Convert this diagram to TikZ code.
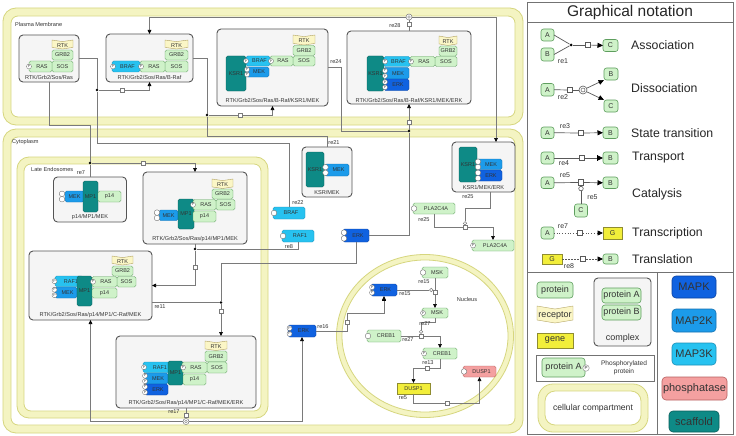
\documentclass[tikz,border=0pt]{standalone}
\usepackage{fontspec}
\setmainfont{Liberation Sans}
\usetikzlibrary{arrows.meta,calc}
\definecolor{txt}{HTML}{333333}
\definecolor{cplxf}{HTML}{F5F5F5}
\definecolor{cplxb}{HTML}{555555}
\definecolor{protf}{HTML}{CFF2C9}
\definecolor{protb}{HTML}{5E9E5E}
\definecolor{m3f}{HTML}{27C2F0}
\definecolor{m3b}{HTML}{1A8FB8}
\definecolor{m2f}{HTML}{1C9BEA}
\definecolor{m2b}{HTML}{1470B0}
\definecolor{m1f}{HTML}{1062E0}
\definecolor{m1b}{HTML}{0A40A0}
\definecolor{scf}{HTML}{0E8A86}
\definecolor{scb}{HTML}{0A5E5B}
\definecolor{genef}{HTML}{F2EE3A}
\definecolor{geneb}{HTML}{8F8C30}
\definecolor{phf}{HTML}{F4A0A0}
\definecolor{phb}{HTML}{B86060}
\definecolor{recf}{HTML}{FBF6C6}
\definecolor{recb}{HTML}{B0A060}
\definecolor{compband}{HTML}{F4F4C2}
\definecolor{compline}{HTML}{D6D67E}
\definecolor{lineg}{HTML}{7A7A7A}
\newcommand\dgS{\fontsize{5.6}{6.2}\selectfont}
\newcommand\dgM{\fontsize{5.5}{6.2}\selectfont}
\newcommand\dgP{\fontsize{3.4}{3.6}\selectfont}
\newcommand\lgA{\fontsize{7}{8}\selectfont}
\newcommand\lgB{\fontsize{9}{10}\selectfont}
\newcommand\lgL{\fontsize{12.3}{14}\selectfont}
\newcommand\lgT{\fontsize{15.5}{18}\selectfont}
\newcommand\lgK{\fontsize{11}{12}\selectfont}
\newcommand\lgS{\fontsize{7}{8}\selectfont}
\newcommand\lgC{\fontsize{8.6}{10}\selectfont}
\newcommand\lgP{\fontsize{6.6}{7.6}\selectfont}
\newcommand\mol[7]{\node[#2,minimum width={(#5-#3)*1pt},minimum height={(#6-#4)*1pt}] (#1) at ({(#3+#5)/2},{(#4+#6)/2}) {#7};}
\newcommand\stP[3]{\node[pcirc] (#1) at (#2,#3) {P};}
\newcommand\stE[3]{\node[ecirc] (#1) at (#2,#3) {};}
\newcommand\recep[7]{%
 \filldraw[fill=recf,draw=recb,line width=0.4pt] (#2,#3) -- ({(#2+#4)/2},{#3+#6}) -- (#4,#3) -- (#4,{#5-#6}) -- ({(#2+#4)/2},#5) -- (#2,{#5-#6}) -- cycle;
 \node[inner sep=0pt,text=txt] (#1) at ({(#2+#4)/2},{(#3+#5)/2+#6/2}) {#7};}
\newcommand\compart[7]{%
 \draw[draw=compline, line width=0.8pt, fill=compband, rounded corners=#6pt] (#1,#2) rectangle (#3,#4);
 \draw[draw=compline, line width=0.8pt, fill=white, rounded corners=#7pt] ({#1+#5},{#2+#5}) rectangle ({#3-#5},{#4-#5});}
\tikzset{
 cplx/.style={draw=cplxb, fill=cplxf, line width=0.9pt, rounded corners=4pt, inner sep=0pt, outer sep=0pt},
 mbase/.style={line width=0.4pt, rounded corners=1.6pt, inner sep=0pt, outer sep=0pt, font=\dgM, text=txt},
 prot/.style={mbase, draw=protb, fill=protf},
 mthree/.style={mbase, draw=m3b, fill=m3f},
 mtwo/.style={mbase, draw=m2b, fill=m2f},
 mone/.style={mbase, draw=m1b, fill=m1f},
 scaf/.style={mbase, draw=scb, fill=scf},
 genest/.style={mbase, rounded corners=0pt, draw=geneb, fill=genef},
 phos/.style={mbase, draw=phb, fill=phf},
 pcirc/.style={circle, draw=gray!80!black, fill=white, line width=0.3pt, inner sep=0pt, minimum size=5pt, font=\dgP, text=txt},
 ecirc/.style={circle, draw=gray!80!black, fill=white, line width=0.35pt, inner sep=0pt, minimum size=5.6pt},
 sqn/.style={rectangle, draw=lineg, fill=white, line width=0.5pt, minimum size=4.4pt, inner sep=0pt},
 dotn/.style={circle, fill=black, inner sep=0pt, minimum size=2.6pt},
 dissoc/.style={circle, draw=lineg, fill=white, line width=0.5pt, minimum size=6pt, inner sep=0pt, path picture={\draw[lineg, line width=0.4pt] (path picture bounding box.center) circle (1.4pt);}},
 catc/.style={circle, draw=lineg, fill=white, line width=0.5pt, minimum size=3.4pt, inner sep=0pt},
 conn/.style={draw=lineg, line width=0.6pt},
 arr/.style={conn, -{Triangle[length=4pt, width=3.6pt, fill=black, color=black]}},
 tarr/.style={conn, -{Bar[width=4pt,color=black] Triangle[length=4pt, width=3.6pt, fill=black, color=black]}},
 rlbl/.style={font=\dgS, text=txt, inner sep=0pt},
 lprot/.style={prot, font=\lgA, rounded corners=2.5pt, line width=0.6pt},
 lgene/.style={genest, font=\lgA, line width=0.6pt},
 lprotb/.style={prot, font=\lgB, rounded corners=3pt, line width=0.6pt},
 lconn/.style={draw=black!65, line width=0.7pt},
 larr/.style={lconn, -{Triangle[length=5.5pt, width=5pt, fill=black, color=black]}},
 ltarr/.style={lconn, -{Bar[width=6pt,color=black] Triangle[length=5.5pt, width=5pt, fill=black, color=black]}},
 lsq/.style={rectangle, draw=black!65, fill=white, line width=0.6pt, minimum size=5.5pt, inner sep=0pt},
 ldot/.style={circle, fill=black, minimum size=3pt, inner sep=0pt},
 ldis/.style={circle, draw=black!65, fill=white, line width=0.6pt, minimum size=8pt, inner sep=0pt, path picture={\draw[black!65, line width=0.5pt] (path picture bounding box.center) circle (2pt);}},
 lcat/.style={circle, draw=black!65, fill=white, line width=0.6pt, minimum size=4.5pt, inner sep=0pt},
 ltxt/.style={font=\lgL, text=black!85, anchor=west, inner sep=0pt},
 lsmall/.style={font=\lgS, text=txt, inner sep=0pt},
 lkey/.style={mbase, rounded corners=4pt, line width=0.6pt, font=\lgK, text=black!80},
}
\begin{document}
\begin{tikzpicture}[x=1pt,y=-1pt]
\useasboundingbox (0,0) rectangle (736,436);
\fill[white] (0,0) rectangle (736,436);
% ---------------- compartments
\compart{3}{8}{523}{125}{8}{13}{7}
\compart{3}{129}{523}{433}{8}{13}{7}
\compart{17}{157}{268}{418}{7}{12}{7}
\draw[draw=compline, line width=0.8pt, fill=compband] (425,336) ellipse [x radius=88.5pt, y radius=81.5pt];
\draw[draw=compline, line width=0.8pt, fill=white] (425,336) ellipse [x radius=83pt, y radius=76pt];
\node[rlbl, anchor=west] (lpm) at (15,24) {Plasma Membrane};
\node[rlbl, anchor=west] (lcy) at (12,142) {Cytoplasm};
\node[rlbl, anchor=west] (len) at (31,169.5) {Late Endosomes};
\node[rlbl] (lnu) at (467,299) {Nucleus};
% ---------------- complex 1
\mol{c1}{cplx}{19}{35}{79}{82}{}
\node[rlbl] (c1l) at (49,77.5) {RTK/Grb2/Sos/Ras};
\recep{c1rtk}{52}{40}{73}{49}{1.6}{\dgM RTK}
\mol{c1grb}{prot}{52}{50}{73}{60}{GRB2}
\mol{c1sos}{prot}{52}{61}{73}{72}{SOS}
\mol{c1ras}{prot}{29}{61}{52}{72}{\hspace{3pt}RAS}
\stP{c1p}{29}{66.5}
% ---------------- complex 2
\mol{c2}{cplx}{106}{34}{193}{82}{}
\node[rlbl] (c2l) at (149.5,77.5) {RTK/Grb2/Sos/Ras/B-Raf};
\recep{c2rtk}{165}{40}{188}{49}{1.6}{\dgM RTK}
\mol{c2grb}{prot}{165}{50}{188}{60}{GRB2}
\mol{c2sos}{prot}{165}{61}{188}{72}{SOS}
\mol{c2ras}{prot}{140}{61}{165}{72}{\hspace{3pt}RAS}
\mol{c2braf}{mthree}{112}{61}{140}{72}{\hspace{3pt}BRAF}
\stP{c2p1}{141}{66.5}
\stP{c2p2}{113}{66.5}
% ---------------- complex 3
\mol{c3}{cplx}{217}{29}{328}{106}{}
\node[rlbl] (c3l) at (272.5,100.5) {RTK/Grb2/Sos/Ras/B-Raf/KSR1/MEK};
\recep{c3rtk}{293}{35}{315}{45}{1.6}{\dgM RTK}
\mol{c3grb}{prot}{293}{45.5}{315}{55.5}{GRB2}
\mol{c3sos}{prot}{293}{56}{315}{66}{SOS}
\mol{c3ras}{prot}{270}{56}{293}{66}{\hspace{3pt}RAS}
\mol{c3ksr}{scaf}{226}{56}{246}{91}{KSR1}
\mol{c3braf}{mthree}{246}{56}{270}{66}{\hspace{3pt}BRAF}
\mol{c3mek}{mtwo}{246}{67}{269}{77}{\hspace{3pt}MEK}
\stP{c3p1}{271}{61}
\stP{c3p2}{246}{61}
\stP{c3p3}{247}{69.5}
\stP{c3p4}{247}{74.5}
% ---------------- complex 4
\mol{c4}{cplx}{347}{31}{471}{104}{}
\node[rlbl] (c4l) at (409,100) {RTK/Grb2/Sos/Ras/B-Raf/KSR1/MEK/ERK};
\recep{c4rtk}{439}{36}{457}{45.5}{1.6}{\dgM RTK}
\mol{c4grb}{prot}{439}{46}{457}{56}{GRB2}
\mol{c4sos}{prot}{435}{56.5}{457}{66.5}{SOS}
\mol{c4ras}{prot}{410}{56.5}{435}{66.5}{\hspace{3pt}RAS}
\mol{c4ksr}{scaf}{367}{56}{384}{91}{KSR1}
\mol{c4braf}{mthree}{384}{56.5}{410}{66.5}{\hspace{3pt}BRAF}
\mol{c4mek}{mtwo}{384}{67.5}{409}{79}{\hspace{3pt}MEK}
\mol{c4erk}{mone}{384}{79}{409}{90.5}{\hspace{3pt}ERK}
\stP{c4p1}{411}{61.5}
\stP{c4p2}{385}{61.5}
\stP{c4p3}{385}{70.7}
\stP{c4p4}{385}{75.9}
\stP{c4p5}{385}{82}
\stP{c4p6}{385}{87.3}
% ---------------- KSR/MEK
\mol{c5}{cplx}{302}{147}{352}{197}{}
\node[rlbl] (c5l) at (327,192.5) {KSR/MEK};
\mol{c5ksr}{scaf}{306}{152}{324}{187}{KSR1}
\mol{c5mek}{mtwo}{325}{164}{349}{176}{\hspace{3pt}MEK}
\stE{c5e1}{325.5}{167.2}
\stE{c5e2}{325.5}{172.8}
% ---------------- KSR1/MEK/ERK
\mol{c6}{cplx}{452}{142}{515}{192}{}
\node[rlbl] (c6l) at (483.5,187.5) {KSR1/MEK/ERK};
\mol{c6ksr}{scaf}{459}{147}{477}{182}{KSR1}
\mol{c6mek}{mtwo}{477}{159}{502}{169.5}{\hspace{3pt}MEK}
\mol{c6erk}{mone}{477}{170}{502}{181}{\hspace{3pt}ERK}
\stE{c6e1}{478}{161.7}
\stE{c6e2}{478}{167}
\stE{c6e3}{478}{172.8}
\stE{c6e4}{478}{178.2}
% ---------------- single cytoplasm species
\mol{b1}{mthree}{273}{207}{305}{219}{\hspace{4pt}BRAF}
\stE{b1e}{274}{213}
\mol{r1}{mthree}{282}{230}{314}{242}{\hspace{4pt}RAF1}
\stE{r1e}{283}{236}
\mol{e1}{mone}{343}{229}{369}{242}{\hspace{4pt}ERK}
\stE{e1e1}{344}{232.6}
\stE{e1e2}{344}{238.4}
\mol{pl1}{prot}{413}{203}{455}{214}{\hspace{4pt}PLA2C4A}
\stE{pl1e}{414}{208.5}
\mol{pl2}{prot}{472}{240}{514}{251}{\hspace{4pt}PLA2C4A}
\stP{pl2p}{473}{245.5}
\mol{e2}{mone}{288}{325}{316}{337}{\hspace{3pt}ERK}
\stP{e2p1}{289.5}{328.2}
\stP{e2p2}{289.5}{333.8}
% ---------------- nucleus species
\mol{en}{mone}{371}{284}{397}{296}{\hspace{3pt}ERK}
\stP{enp1}{372}{287.3}
\stP{enp2}{372}{292.7}
\mol{m1}{prot}{422}{267}{448}{278}{\hspace{4pt}MSK}
\stE{m1e}{423}{272.5}
\mol{m2}{prot}{422}{308}{448}{318}{\hspace{4pt}MSK}
\stP{m2p}{423}{313}
\mol{cr1}{prot}{367}{330}{401}{342}{\hspace{4pt}CREB1}
\stE{cr1e}{368}{336}
\mol{cr2}{prot}{423}{348}{457}{359}{\hspace{4pt}CREB1}
\stP{cr2p}{424}{353.5}
\mol{g1}{genest}{397}{383}{430}{394}{DUSP1}
\mol{dp}{phos}{463}{366}{496}{377}{\hspace{4pt}DUSP1}
\stE{dpe}{464}{371.5}
% ---------------- late endosome complexes
\mol{c7}{cplx}{53.5}{177}{126.5}{222}{}
\node[rlbl] (c7l) at (90,217.5) {p14/MP1/MEK};
\mol{c7mek}{mtwo}{65}{191}{84}{202}{MEK}
\mol{c7mp}{scaf}{83}{181}{98}{212}{MP1}
\mol{c7p14}{prot}{98}{191}{121}{202}{p14}
\stE{c7e1}{62}{193.8}
\stE{c7e2}{62}{199.2}
\mol{c8}{cplx}{143}{172}{247}{244}{}
\node[rlbl] (c8l) at (195,239.5) {RTK/Grb2/Sos/Ras/p14/MP1/MEK};
\recep{c8rtk}{212}{179}{233}{188.5}{1.6}{\dgM RTK}
\mol{c8grb}{prot}{212}{189}{233}{199}{GRB2}
\mol{c8sos}{prot}{216}{199.5}{235}{210}{SOS}
\mol{c8mek}{mtwo}{159}{210}{178}{220.5}{MEK}
\mol{c8mp}{scaf}{178}{199}{194}{229}{MP1}
\mol{c8ras}{prot}{193}{199.5}{216}{210}{\hspace{3pt}RAS}
\mol{c8p14}{prot}{193}{211}{216}{222}{p14}
\stP{c8p}{193}{204.8}
\stE{c8e1}{157}{212.6}
\stE{c8e2}{157}{218}
\mol{c9}{cplx}{29}{251}{152}{320}{}
\node[rlbl] (c9l) at (90.5,315.5) {RTK/Grb2/Sos/Ras/p14/MP1/C-Raf/MEK};
\recep{c9rtk}{112}{256}{133}{265}{1.6}{\dgM RTK}
\mol{c9grb}{prot}{112}{266}{133}{276}{GRB2}
\mol{c9sos}{prot}{117}{276.5}{136}{287}{SOS}
\mol{c9raf}{mthree}{55}{276}{83}{286.5}{\hspace{4pt}RAF1\hspace{4pt}}
\mol{c9mek}{mtwo}{55}{287}{77}{298}{\hspace{3pt}MEK}
\mol{c9mp}{scaf}{77}{276}{92}{306}{MP1}
\mol{c9ras}{prot}{92}{276.5}{117}{287}{\hspace{3pt}RAS}
\mol{c9p14}{prot}{92}{288}{117}{298}{p14}
\stP{c9p1}{93}{281.7}
\stP{c9p2}{54.5}{281.2}
\stP{c9p3}{54.5}{289.7}
\stP{c9p4}{54.5}{295.2}
\mol{c10}{cplx}{116}{336}{256}{408}{}
\node[rlbl] (c10l) at (186,403.5) {RTK/Grb2/Sos/Ras/p14/MP1/C-Raf/MEK/ERK};
\recep{c10rtk}{205}{341}{227}{350.5}{1.6}{\dgM RTK}
\mol{c10grb}{prot}{205}{351}{227}{361.5}{GRB2}
\mol{c10sos}{prot}{207}{362}{227}{373}{SOS}
\mol{c10raf}{mthree}{143}{362}{175}{372.5}{\hspace{2pt}RAF1\hspace{6pt}}
\mol{c10mek}{mtwo}{145}{373}{168}{384}{\hspace{3pt}MEK}
\mol{c10erk}{mone}{145}{384}{168}{395}{\hspace{3pt}ERK}
\mol{c10mp}{scaf}{168}{361}{183}{385}{MP1}
\mol{c10ras}{prot}{182}{362}{207}{373}{\hspace{3pt}RAS}
\mol{c10p14}{prot}{183}{374}{206}{385}{p14}
\stP{c10p1}{183}{367.5}
\stP{c10p2}{144}{367.2}
\stP{c10p3}{145}{375.8}
\stP{c10p4}{145}{381.2}
\stP{c10p5}{145}{386.8}
\stP{c10p6}{145}{392.3}
% ---------------- reaction nodes
\node[dotn] (d22) at (97,90) {};
\node[sqn] (s22) at (122,90) {};
\coordinate (k22) at (97,143);
\node[dotn] (d7) at (90,163) {};
\node[sqn] (s7) at (143,163) {};
\coordinate (k7) at (90,125);
\node[dotn] (d21) at (207,115) {};
\node[sqn] (s21) at (240,115) {};
\coordinate (k21) at (207,136);
\node[dotn] (d24) at (409,131) {};
\node[sqn] (s24) at (409,122) {};
\coordinate (k24) at (341,131);
\node[sqn] (s28) at (409,24.5) {};
\node[dissoc] (o28) at (409,17) {};
\coordinate (t28) at ($(c6.north east)+(-19,0)$);
\node[sqn] (s25) at (465,227.5) {};
\node[catc] (o25) at (465,223.3) {};
\coordinate (k25) at (465,208);
\coordinate (f25) at ($(c6.south)+(7,0)$);
\node[dotn] (d8) at (195,249) {};
\node[sqn] (s8) at (195,267) {};
\node[dotn] (d11) at (221,302.5) {};
\node[sqn] (s11) at (221,311) {};
\coordinate (f11) at ($(c9.south east)+(0,-17.5)$);
\coordinate (k11) at (221,263);
\node[sqn] (s17) at (186,415) {};
\node[dissoc] (o17) at (186,421.5) {};
\node[sqn] (s16) at (347,322) {};
\coordinate (k16) at (347,313);
\node[sqn] (s15) at (435,292.5) {};
\node[catc] (o15) at (431.2,290) {};
\node[sqn] (s27) at (421,336) {};
\node[catc] (o27) at (421,331.8) {};
\coordinate (k27) at (421,322);
\node[sqn] (s13) at (427,368) {};
\node[sqn] (s5) at (447,403) {};
% ---------------- connectors
\draw[conn] (c1.east) -| (d22);
\draw[conn] (b1.north) |- (k22) -- (d22);
\draw[conn] (d22) -- (s22);
\draw[arr] (s22) -| (c2.south);
\draw[conn] (c1.south) |- (k7) -- (d7);
\draw[conn] (d7) -- (c7.north);
\draw[conn] (d7) -- (s7);
\draw[arr] (s7) -| (c8.north);
\draw[conn] (c2.east) -| (d21);
\draw[conn] (d21) -- (k21) -| (c5.north);
\draw[conn] (d21) -- (s21);
\draw[arr] (s21) -| (c3.south);
\draw[conn] (c3.east) -| (k24) -- (d24);
\draw[conn] (e1.east) -| (d24);
\draw[conn] (d24) -- (s24);
\draw[arr] (s24) -- (c4.south);
\draw[conn] (c4.north) -- (s28);
\draw[conn] (s28) -- (o28);
\draw[arr] (o28) -| (c2.north);
\draw[arr] (o28) -| (t28);
\draw[conn] (f25) |- (k25) -- (o25);
\draw[conn] (pl1.south) |- (s25);
\draw[arr] (s25) -| (pl2.north);
\draw[conn] (r1.south) |- (d8);
\draw[conn] (c8.south) -- (d8);
\draw[conn] (d8) -- (s8);
\draw[arr] (s8) |- (c9.east);
\draw[conn] (f11) -- (d11);
\draw[conn] (e1.south) |- (k11) -- (d11);
\draw[conn] (d11) -- (s11);
\draw[arr] (s11) -- (s11 |- c10.north);
\draw[conn] (c10.south) -- (s17);
\draw[conn] (s17) -- (o17);
\draw[arr] (o17) -| (c9.south);
\draw[arr] (o17) -| (e2.south);
\draw[conn] (e2.east) -| (s16);
\draw[tarr] (s16) -- (k16) -| (en.south);
\draw[conn] (en.east) -- (o15);
\draw[conn] (m1.south) -- (s15);
\draw[arr] (s15) -- (m2.north);
\draw[conn] (m2.south) |- (k27) -- (o27);
\draw[conn] (cr1.east) -- (s27);
\draw[arr] (s27) -| (cr2.north);
\draw[conn] (cr2.south) |- (s13);
\draw[arr] (s13) -| (g1.north);
\draw[conn] (g1.south) |- (s5);
\draw[arr] (s5) -| (dp.south);
% ---------------- reaction labels
\node[rlbl] (lr22) at (298,202.5) {re22};
\node[rlbl] (lr7) at (81,173) {re7};
\node[rlbl] (lr21) at (334,143) {re21};
\node[rlbl] (lr24) at (336,61.5) {re24};
\node[rlbl] (lr28) at (395,26) {re28};
\node[rlbl] (lr25a) at (468,197) {re25};
\node[rlbl] (lr25b) at (424,219.5) {re25};
\node[rlbl] (lr8) at (289,246.5) {re8};
\node[rlbl] (lr11) at (160,307) {re11};
\node[rlbl] (lr17) at (174,412) {re17};
\node[rlbl] (lr16) at (323,327) {re16};
\node[rlbl] (lr15a) at (405,294) {re15};
\node[rlbl] (lr15b) at (424,282) {re15};
\node[rlbl] (lr27a) at (425,323.5) {re27};
\node[rlbl] (lr27b) at (408,340) {re27};
\node[rlbl] (lr13) at (428,363) {re13};
\node[rlbl] (lr5) at (403,398) {re5};
% ---------------- legend
\draw[draw=black!55, line width=0.8pt] (527,2) rectangle (733,434);
\draw[draw=black!55, line width=0.8pt] (527,22) -- (733,22);
\draw[draw=black!55, line width=0.8pt] (527,272) -- (733,272);
\draw[draw=black!55, line width=0.8pt] (657,272) -- (657,434);
\node[font=\lgT, text=black!85, inner sep=0pt] (ltitle) at (630,12.5) {Graphical notation};
% association
\mol{la1}{lprot}{541}{29}{554}{41}{A}
\mol{lb1}{lprot}{541}{48}{554}{61}{B}
\node[ldot] (ld1) at (571,45) {};
\node[lsq] (ls1) at (588,45) {};
\mol{lc1}{lprot}{603}{39.5}{618}{51.5}{C}
\draw[lconn] (la1.east) -- (ld1);
\draw[lconn] (lb1.east) -- (ld1);
\draw[lconn] (ld1) -- (ls1);
\draw[larr] (ls1) -- (lc1.west);
\node[lsmall] (lre1) at (563,61) {re1};
\node[ltxt] (lt1) at (631,45) {Association};
% dissociation
\mol{la2}{lprot}{541}{83.5}{554}{96}{A}
\node[lsq] (ls2) at (570,90) {};
\node[ldis] (lo2) at (583,90) {};
\mol{lb2}{lprot}{604}{68}{618}{80}{B}
\mol{lc2}{lprot}{604}{100}{618}{112}{C}
\draw[lconn] (la2.east) -- (ls2);
\draw[lconn] (ls2) -- (lo2);
\draw[larr] (lo2) -- (lb2.south west);
\draw[larr] (lo2) -- (lc2.north west);
\node[lsmall] (lre2) at (563,97.5) {re2};
\node[ltxt] (lt2) at (631,88) {Dissociation};
% state transition
\mol{la3}{lprot}{541}{127}{554}{138.5}{A}
\node[lsq] (ls3) at (581,133) {};
\mol{lb3}{lprot}{603}{127}{618}{138.5}{B}
\draw[lconn] (la3.east) -- (ls3);
\draw[larr] (ls3) -- (lb3.west);
\node[lsmall] (lre3) at (565,126.5) {re3};
\node[ltxt] (lt3) at (631,133) {State transition};
% transport
\mol{la4}{lprot}{541}{152}{554}{164}{A}
\node[lsq] (ls4) at (582,158) {};
\mol{lb4}{lprot}{603}{152}{618}{164}{B}
\draw[lconn] (la4.east) -- (ls4);
\draw[ltarr] (ls4) -- (lb4.west);
\node[lsmall] (lre4) at (564,163.5) {re4};
\node[ltxt] (lt4) at (632,158) {Transport};
% catalysis
\mol{la5}{lprot}{541}{177}{554}{188.5}{A}
\node[lsq] (ls5) at (581,182.5) {};
\mol{lb5}{lprot}{603}{177}{618}{188.5}{B}
\mol{lc5}{lprot}{574.5}{204}{587.5}{217}{C}
\node[lcat] (lo5) at (581,188.6) {};
\draw[lconn] (la5.east) -- (ls5);
\draw[larr] (ls5) -- (lb5.west);
\draw[lconn] (lc5.north) -- (lo5);
\node[lsmall] (lre5a) at (565,175.5) {re5};
\node[lsmall] (lre5b) at (592.5,197) {re5};
\node[ltxt] (lt5) at (632,194) {Catalysis};
% transcription
\mol{la6}{lprot}{541}{227}{554}{239}{A}
\node[lsq] (ls6) at (580,233) {};
\mol{lg6}{lgene}{603}{227}{622}{239}{G}
\draw[lconn, dotted] (la6.east) -- (ls6);
\draw[larr, dotted] (ls6) -- (lg6.west);
\node[lsmall] (lre7) at (563,226.5) {re7};
\node[ltxt] (lt6) at (632,233) {Transcription};
% translation
\mol{lg7}{lgene}{542}{254}{562}{264}{G}
\node[lsq] (ls7) at (583,259) {};
\mol{lb7}{lprot}{603}{254}{618}{264}{B}
\draw[lconn, dash pattern=on 2pt off 1pt] (lg7.east) -- (ls7);
\draw[larr, dash pattern=on 2pt off 1pt] (ls7) -- (lb7.west);
\node[lsmall] (lre8) at (569,266.5) {re8};
\node[ltxt] (lt7) at (632,259) {Translation};
% key: species
\mol{lgp}{lprotb}{537}{282}{573}{298}{protein}
\recep{lgr}{537}{306}{573}{323}{3}{\lgB receptor}
\mol{lgg}{lgene}{537}{333}{573}{348}{\lgB gene}
\mol{lgc}{cplx}{594}{278}{651}{346}{}
\mol{lgpa}{lprotb}{602}{288}{641}{303}{protein A}
\mol{lgpb}{lprotb}{602}{305}{641}{320}{protein B}
\node[font=\lgB, text=txt, inner sep=0pt] (lgcl) at (622.5,338.5) {complex};
\node[draw=black!55, line width=0.6pt, minimum width=118pt, minimum height=26pt, inner sep=0pt] (lgph) at (595,368) {};
\mol{lgpp}{lprotb}{542}{358}{585}{377}{protein A\hspace{3pt}}
\node[pcirc, minimum size=6.5pt, font=\fontsize{4.5}{5}\selectfont] (lgppc) at (586,368) {P};
\node[font=\lgP, text=txt, align=center, inner sep=0pt] (lgpht) at (624,368) {Phosphorylated\\protein};
\compart{538}{384}{648}{432}{7}{15}{10}
\node[font=\lgC, text=txt, inner sep=0pt] (lgcct) at (593,408) {cellular compartment};
% key: colours
\mol{lkm1}{lkey, fill=m1f, draw=m1b}{672}{276}{716}{298}{MAPK}
\mol{lkm2}{lkey, fill=m2f, draw=m2b}{672}{309}{716}{332}{MAP2K}
\mol{lkm3}{lkey, fill=m3f, draw=m3b}{672}{343}{716}{365}{MAP3K}
\mol{lkph}{lkey, fill=phf, draw=phb}{662}{377}{727}{400}{phosphatase}
\mol{lksc}{lkey, fill=scf, draw=scb}{669}{411}{719}{432}{scaffold}
\end{tikzpicture}
\end{document}
